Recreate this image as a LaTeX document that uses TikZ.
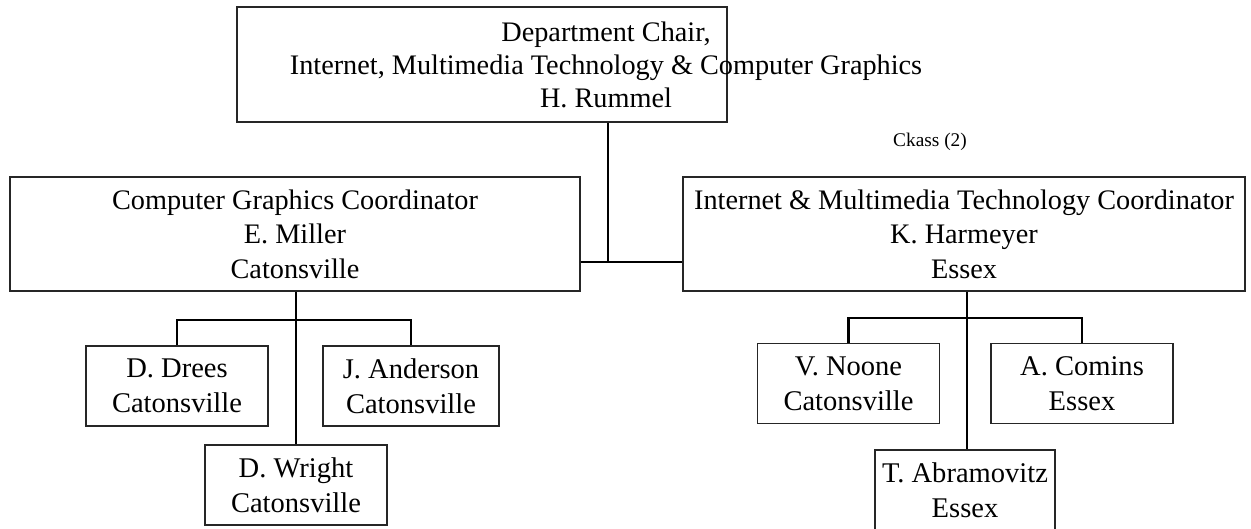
\documentclass[tikz,border=0pt]{standalone}
\usepackage{fontspec}
\setmainfont{Liberation Serif}
\usepackage{tikz}

\tikzset{
	box/.style={draw=black!85, line width=1.1pt, rectangle, align=center, inner sep=0pt},
	headbox/.style={box, font=\fontsize{21.2}{26}\selectfont},
	staffbox/.style={box, minimum width=136.5pt, minimum height=60pt, font=\fontsize{21.4}{26}\selectfont},
	link/.style={line width=1.8pt},
}

\begin{document}
\begin{tikzpicture}[x=0.75pt, y=-0.75pt]
	\useasboundingbox (0,0) rectangle (1251,528);
	\begin{scope}
	\clip (0,0) rectangle (1251,528);
	% top of the tree
	\node[box, minimum width=367.5pt, minimum height=86pt] (chair) at (482,64.5) {};
	\node[align=center, inner sep=0pt, font=\fontsize{21.2}{24.75}\selectfont] (chairtext) at (606,65) {Department Chair,\\ Internet, Multimedia Technology \& Computer Graphics\\ H. Rummel};
	\node[font=\fontsize{14.5}{16}\selectfont, inner sep=0pt] (classlbl) at (930,142) {Ckass (2)};
	% coordinators
	\node[headbox, minimum width=427.5pt, minimum height=85.5pt] (cg) at (295,234) {Computer Graphics Coordinator\\ E. Miller\\ Catonsville};
	\node[headbox, minimum width=421.5pt, minimum height=85.5pt] (imt) at (964,234) {Internet \& Multimedia Technology Coordinator\\ K. Harmeyer\\ Essex};
	% staff, left side
	\node[staffbox] (drees) at (177,386) {D. Drees\\ Catonsville};
	\node[staffbox, minimum width=132pt] (anderson) at (411,386) {J. Anderson\\ Catonsville};
	\node[staffbox] (wright) at (296,485) {D. Wright\\ Catonsville};
	% staff, right side
	\node[staffbox] (noone) at (848.5,383.5) {V. Noone\\ Catonsville};
	\node[staffbox] (comins) at (1082,383.5) {A. Comins\\ Essex};
	\node[staffbox, minimum width=135pt] (abramovitz) at (965,490) {T. Abramovitz\\ Essex};
	% connectors
	\coordinate (join) at (608,262);
	\coordinate (cgbar) at (296,320);
	\coordinate (imtbar) at (967,318);
	\draw[link] (chair.south -| join) -- (join);
	\draw[link] (cg.east |- join) -- (imt.west |- join);
	\draw[link] (cg.south -| cgbar) -- (wright.north -| cgbar);
	\draw[link] (drees.north) |- (cgbar) -| (anderson.north);
	\draw[link] (imt.south -| imtbar) -- (abramovitz.north -| imtbar);
	\draw[link] (noone.north) |- (imtbar) -| (comins.north);
	\end{scope}
\end{tikzpicture}
\end{document}
